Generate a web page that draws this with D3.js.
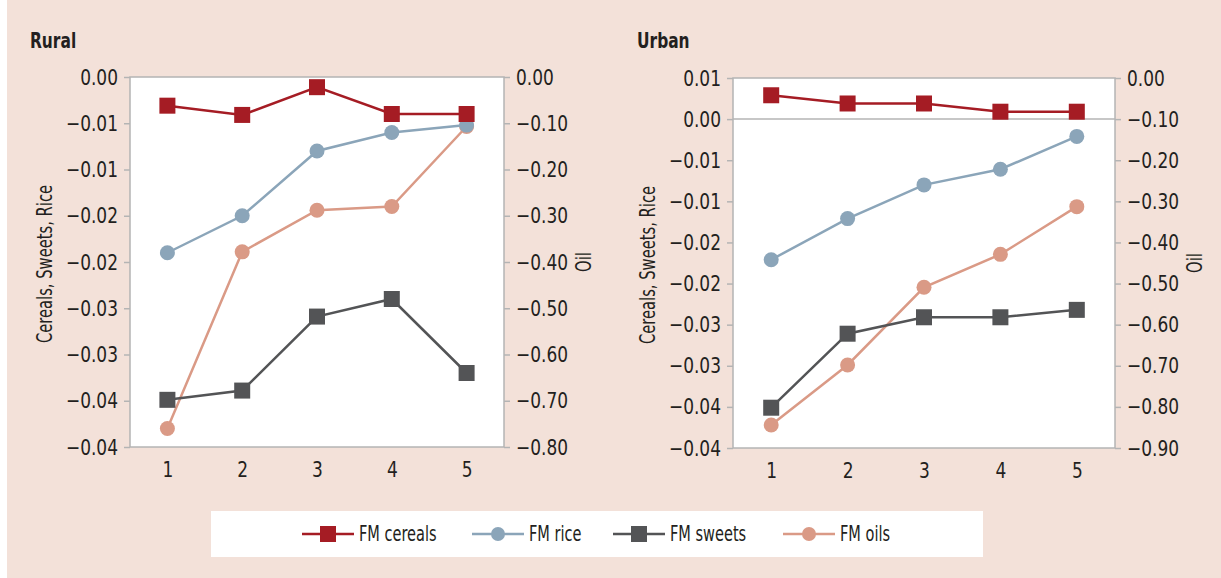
<!DOCTYPE html>
<html>
<head>
  <meta charset="utf-8">
  <title>Rural / Urban</title>
  <style>
    body { margin: 0; background: #fff; }
    svg text {
      font-family: "DejaVu Sans Condensed", "DejaVu Sans", sans-serif;
      font-stretch: condensed;
      fill: #231f20;
      transform-box: fill-box;
    }
    .frame { fill: #fff; stroke: #b4b4b4; stroke-width: 1.5; }
    .axis path, .axis line { stroke: #b4b4b4; stroke-width: 1.5; }
    .axis text { font-size: 22px; transform: scaleX(0.86); }
    .axis-left text { transform-origin: 100% 50%; }
    .axis-right text { transform-origin: 0% 50%; }
    .axis-bottom text { transform-origin: 50% 50%; }
    .title { font-size: 22px; font-weight: bold; transform-origin: 0% 50%; transform: scaleX(0.78); }
    .axis-title { font-size: 21px; transform-origin: 50% 50%; transform: scaleX(0.78); }
    .legend text { font-size: 21px; transform-origin: 0% 50%; transform: scaleX(0.77); }
  </style>
  <script src="https://d3js.org/d3.v7.min.js"></script>
</head>
<body>
  <div id="chart"></div>
  <script>
    const W = 1221;
    const H = 578;

    const categories = [1, 2, 3, 4, 5];

    // rural series
    const ruralCereals = [-0.0031, -0.0041, -0.0011, -0.0040, -0.0040];
    const ruralRice = [-0.0190, -0.0150, -0.0080, -0.0060, -0.0052];
    const ruralSweets = [-0.0349, -0.0339, -0.0259, -0.0240, -0.0320];
    const ruralOils = [-0.76, -0.378, -0.288, -0.280, -0.107];

    // urban series
    const urbanCereals = [0.0029, 0.0019, 0.0019, 0.0009, 0.0009];
    const urbanRice = [-0.0171, -0.0121, -0.0080, -0.0061, -0.0021];
    const urbanSweets = [-0.0351, -0.0261, -0.0241, -0.0241, -0.0232];
    const urbanOils = [-0.844, -0.698, -0.509, -0.429, -0.313];

    // tick values and the (rounded) labels printed next to them
    const ruralLeftTicks = [0, -0.005, -0.01, -0.015, -0.02, -0.025, -0.03, -0.035, -0.04];
    const ruralLeftLabels = ["0.00", "−0.01", "−0.01", "−0.02", "−0.02", "−0.03", "−0.03", "−0.04", "−0.04"];
    const ruralRightTicks = [0, -0.1, -0.2, -0.3, -0.4, -0.5, -0.6, -0.7, -0.8];
    const ruralRightLabels = ["0.00", "−0.10", "−0.20", "−0.30", "−0.40", "−0.50", "−0.60", "−0.70", "−0.80"];

    const urbanLeftTicks = [0.005, 0, -0.005, -0.01, -0.015, -0.02, -0.025, -0.03, -0.035, -0.04];
    const urbanLeftLabels = ["0.01", "0.00", "−0.01", "−0.01", "−0.02", "−0.02", "−0.03", "−0.03", "−0.04", "−0.04"];
    const urbanRightTicks = [0, -0.1, -0.2, -0.3, -0.4, -0.5, -0.6, -0.7, -0.8, -0.9];
    const urbanRightLabels = ["0.00", "−0.10", "−0.20", "−0.30", "−0.40", "−0.50", "−0.60", "−0.70", "−0.80", "−0.90"];

    const seriesNames = ["FM cereals", "FM rice", "FM sweets", "FM oils"];
    const seriesColors = ["#a51c24", "#8ba5b9", "#535456", "#da9a86"];
    const seriesShapes = ["square", "circle", "square", "circle"];

    const svg = d3.select("#chart")
      .append("svg")
      .attr("width", W)
      .attr("height", H);

    svg.append("rect")
      .attr("x", 7).attr("y", 0)
      .attr("width", W - 7).attr("height", H)
      .attr("fill", "#f3e1d9");

    function drawPanel(opt) {
      const g = svg.append("g");
      const { left, right, top, bottom } = opt;

      const x = d3.scalePoint().domain(categories).range([left, right]).padding(0.5);
      const yL = d3.scaleLinear().domain(opt.leftDomain).range([bottom, top]);
      const yR = d3.scaleLinear().domain(opt.rightDomain).range([bottom, top]);

      g.append("rect")
        .attr("class", "frame")
        .attr("x", left).attr("y", top)
        .attr("width", right - left).attr("height", bottom - top);

      if (opt.zeroLine) {
        g.append("line")
          .attr("x1", left).attr("x2", right)
          .attr("y1", yL(0)).attr("y2", yL(0))
          .attr("stroke", "#b4b4b4").attr("stroke-width", 1.5);
      }

      const axL = g.append("g")
        .attr("class", "axis axis-left")
        .attr("transform", `translate(${left},0)`)
        .call(d3.axisLeft(yL).tickValues(opt.leftTicks)
          .tickFormat((d, i) => opt.leftLabels[i]).tickSize(6).tickPadding(6).tickSizeOuter(0));
      axL.select(".domain").remove();

      const axR = g.append("g")
        .attr("class", "axis axis-right")
        .attr("transform", `translate(${right},0)`)
        .call(d3.axisRight(yR).tickValues(opt.rightTicks)
          .tickFormat((d, i) => opt.rightLabels[i]).tickSize(6).tickPadding(6).tickSizeOuter(0));
      axR.select(".domain").remove();

      const axB = g.append("g")
        .attr("class", "axis axis-bottom")
        .attr("transform", `translate(0,${bottom})`)
        .call(d3.axisBottom(x).tickSize(0).tickPadding(14));
      axB.select(".domain").remove();

      g.append("text")
        .attr("class", "title")
        .attr("x", opt.titleX).attr("y", 48)
        .text(opt.title);

      g.append("g")
        .attr("transform", `translate(${left - 85},${(top + bottom) / 2 + 2}) rotate(-90)`)
        .append("text")
        .attr("class", "axis-title")
        .attr("text-anchor", "middle")
        .attr("dy", "0.35em")
        .text("Cereals, Sweets, Rice");

      g.append("g")
        .attr("transform", `translate(${right + 80},${(top + bottom) / 2}) rotate(-90)`)
        .append("text")
        .attr("class", "axis-title")
        .attr("text-anchor", "middle")
        .attr("dy", "0.35em")
        .text("Oil");

      // draw from last series to first so cereals sit on top
      const order = [3, 2, 1, 0];
      order.forEach(k => {
        const vals = opt.series[k];
        const y = k === 3 ? yR : yL;
        const pts = categories.map((c, i) => [x(c), y(vals[i])]);
        g.append("path")
          .attr("d", d3.line()(pts))
          .attr("fill", "none")
          .attr("stroke", seriesColors[k])
          .attr("stroke-width", 2.5);
        if (seriesShapes[k] === "square") {
          g.selectAll(null).data(pts).enter().append("rect")
            .attr("x", d => d[0] - 8).attr("y", d => d[1] - 8)
            .attr("width", 16).attr("height", 16)
            .attr("fill", seriesColors[k]);
        } else {
          g.selectAll(null).data(pts).enter().append("circle")
            .attr("cx", d => d[0]).attr("cy", d => d[1])
            .attr("r", 7.5)
            .attr("fill", seriesColors[k]);
        }
      });
    }

    drawPanel({
      left: 130, right: 504, top: 77, bottom: 447,
      title: "Rural", titleX: 30,
      leftDomain: [-0.04, 0], rightDomain: [-0.8, 0],
      leftTicks: ruralLeftTicks, leftLabels: ruralLeftLabels,
      rightTicks: ruralRightTicks, rightLabels: ruralRightLabels,
      series: [ruralCereals, ruralRice, ruralSweets, ruralOils],
      zeroLine: false
    });

    drawPanel({
      left: 733, right: 1115, top: 78, bottom: 448,
      title: "Urban", titleX: 637,
      leftDomain: [-0.04, 0.005], rightDomain: [-0.9, 0],
      leftTicks: urbanLeftTicks, leftLabels: urbanLeftLabels,
      rightTicks: urbanRightTicks, rightLabels: urbanRightLabels,
      series: [urbanCereals, urbanRice, urbanSweets, urbanOils],
      zeroLine: true
    });

    // legend
    const legend = svg.append("g").attr("class", "legend");
    legend.append("rect")
      .attr("x", 211).attr("y", 511)
      .attr("width", 772).attr("height", 46)
      .attr("fill", "#fff");

    const legendX = [302, 472, 613, 783];
    seriesNames.forEach((name, k) => {
      const lx = legendX[k];
      const ly = 534;
      legend.append("line")
        .attr("x1", lx).attr("x2", lx + 52)
        .attr("y1", ly).attr("y2", ly)
        .attr("stroke", seriesColors[k]).attr("stroke-width", 2.5);
      if (seriesShapes[k] === "square") {
        legend.append("rect")
          .attr("x", lx + 26 - 8).attr("y", ly - 8)
          .attr("width", 16).attr("height", 16)
          .attr("fill", seriesColors[k]);
      } else {
        legend.append("circle")
          .attr("cx", lx + 26).attr("cy", ly).attr("r", 7)
          .attr("fill", seriesColors[k]);
      }
      legend.append("text")
        .attr("x", lx + 57).attr("y", ly)
        .attr("dy", "0.35em")
        .text(name);
    });
  </script>
</body>
</html>
